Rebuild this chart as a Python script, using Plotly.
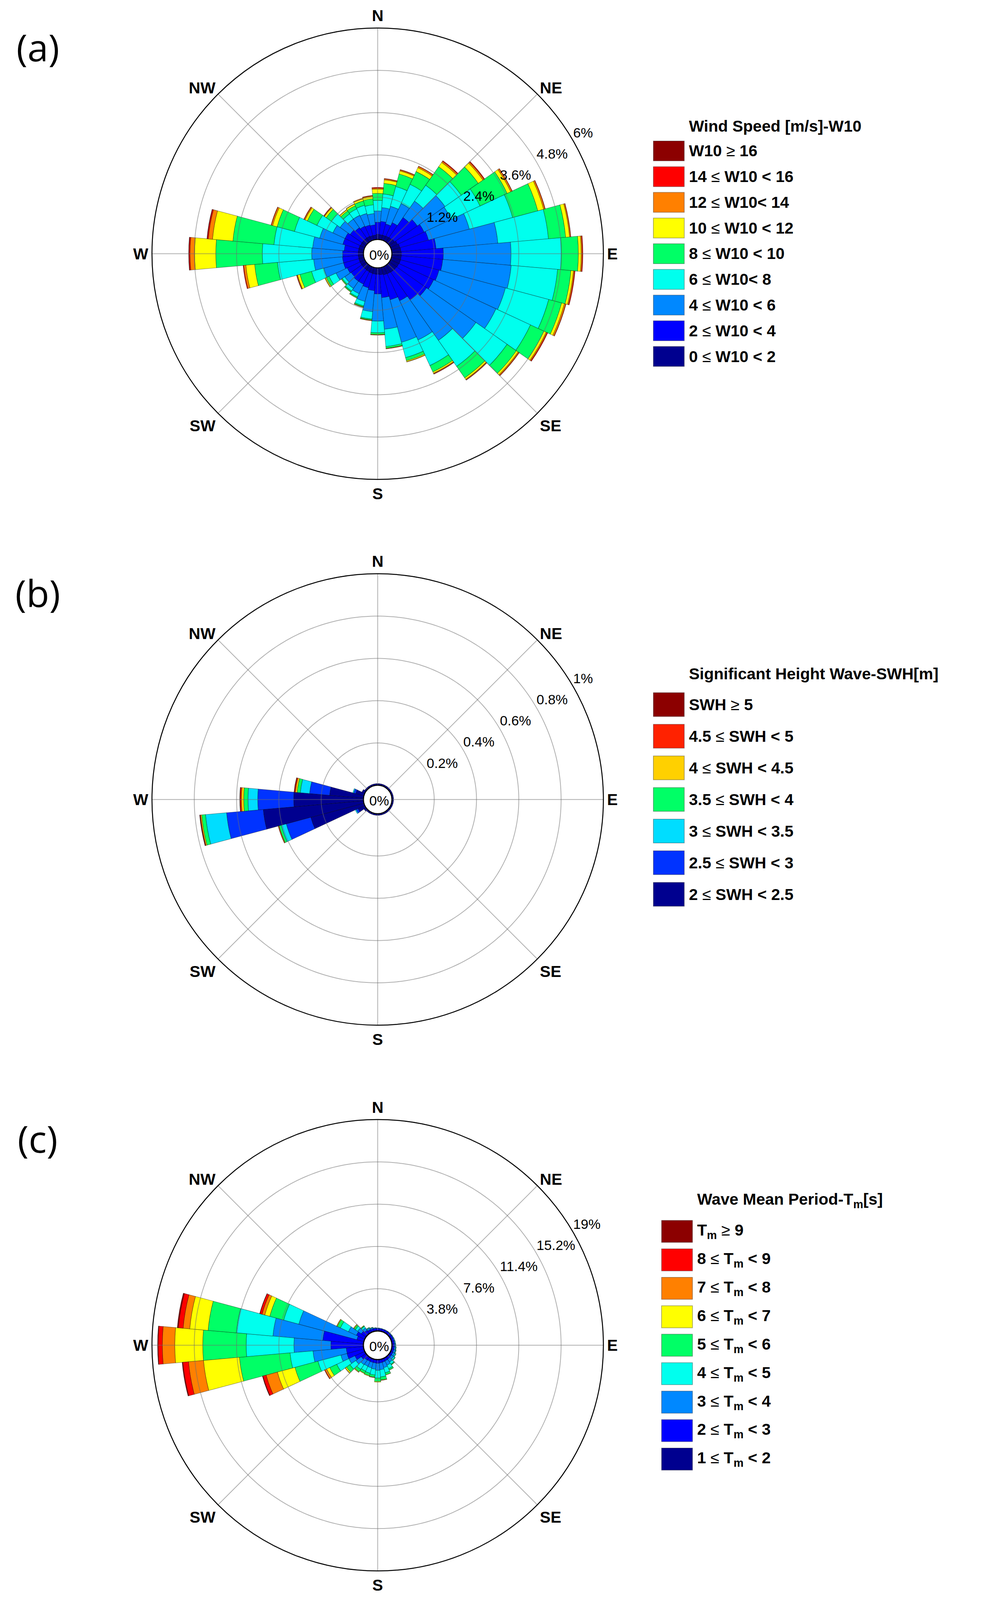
import numpy as np
import plotly.graph_objects as go

# the browser viewport is 2513 x 4096, so the 2513 x 4503 original layout is
# squeezed vertically by S to keep all three roses visible
W, REF_H, H = 2513, 4503, 4096
S = H / REF_H
FONT = "Liberation Sans"

directions = list(range(0, 360, 10))
compass_deg = [0, 45, 90, 135, 180, 225, 270, 315]
compass_lbl = ["N", "NE", "E", "SE", "S", "SW", "W", "NW"]

# ---- (a) wind speed W10, frequency [%] per 10 deg sector, lowest class first
w10_labels = ["0 ≤ W10 < 2", "2 ≤ W10 < 4", "4 ≤ W10 < 6", "6 ≤ W10< 8", "8 ≤ W10 < 10",
              "10 ≤ W10 < 12", "12 ≤ W10< 14", "14 ≤ W10 < 16", "W10 ≥ 16"]
w10_colors = ["#00008f", "#0000ff", "#0088ff", "#00ffee", "#00ff66",
              "#ffff00", "#ff8000", "#ff0000", "#8c0000"]
w10_0_2 = [.15, .14, .14, .15, .16, .18, .22, .25, .26, .27, .27, .27, .26, .25, .24, .23, .22, .20,
           .18, .18, .17, .16, .15, .15, .15, .15, .15, .15, .15, .15, .14, .14, .14, .14, .13, .13]
w10_2_4 = [.34, .38, .33, .42, .69, .79, .83, .84, 1.00, 1.19, 1.18, 1.13, 1.09, 1.04, .96, .84, .73, .65,
           .56, .47, .43, .39, .40, .37, .40, .45, .45, .44, .40, .47, .48, .41, .36, .32, .31, .29]
w10_4_6 = [.32, .39, .52, .60, .57, .96, .85, 1.20, 1.76, 1.92, 1.95, 1.95, 1.95, 1.71, 1.40, 1.23, 1.25, .90,
           .77, .60, .40, .30, .25, .22, .35, .58, .82, .88, .90, .68, .38, .35, .30, .34, .34, .32]
w10_6_8 = [.30, .39, .58, .60, .55, .56, .90, 1.27, 1.44, 1.43, 1.32, 1.27, 1.08, 1.08, .90, .80, .45, .49,
           .33, .21, .13, .10, .09, .08, .22, .36, 1.03, 1.40, 1.10, .74, .50, .30, .18, .20, .24, .25]
w10_8_10 = [.20, .30, .37, .40, .64, .59, .85, .74, .49, .48, .38, .38, .42, .32, .40, .20, .09, .05,
            .05, .03, .03, .03, .03, .03, .09, .34, .65, 1.32, 1.17, .51, .30, .18, .10, .10, .13, .17]
w10_10_12 = [.12, .10, .09, .12, .15, .16, .11, .17, .11, .08, .07, .08, .07, .06, .05, .04, .03, .01,
             .01, .01, .01, .01, .01, .01, .03, .07, .25, .60, .58, .13, .07, .06, .04, .05, .06, .07]
w10_12_14 = [.03, .03, .03, .04, .04, .04, .04, .04, .03, .03, .03, .04, .03, .03, .02, .02, .01, .01,
             .01, .01, .01, 0, 0, 0, .01, .02, .06, .13, .12, .04, .03, .02, .01, .01, .02, .02]
w10_14_16 = [.02, .01, .01, .01, .02, .02, .01, .01, .01, .02, .02, .01, .02, .01, .01, .01, 0, 0,
             0, 0, 0, 0, 0, 0, 0, .01, .02, .03, .03, .01, .01, .01, 0, 0, 0, .01]
w10_16 = [0, 0, 0, 0, 0, 0, 0, 0, 0, 0, 0, 0, 0, 0, 0, 0, 0, 0,
          0, 0, 0, 0, 0, 0, 0, 0, 0, .01, .01, 0, 0, 0, 0, 0, 0, 0]
w10_ticks = [1.2, 2.4, 3.6, 4.8, 6]

# ---- (b) significant wave height SWH
swh_labels = ["2 ≤ SWH < 2.5", "2.5 ≤ SWH < 3", "3 ≤ SWH < 3.5", "3.5 ≤ SWH < 4",
              "4 ≤ SWH < 4.5", "4.5 ≤ SWH < 5", "SWH ≥ 5"]
swh_colors = ["#00008f", "#0033ff", "#00ddff", "#00ff66", "#ffd000", "#ff2200", "#8c0000"]
swh_2_25 = [.008, .008, .008, .008, .008, .008, .008, .008, .008, .008, .008, .008, .008, .008, .008, .008, .008, .008,
            .008, .008, .008, .008, .008, .012, .035, .26, .476, .33, .161, .04, .015, .008, .008, .008, .008, .008]
swh_25_3 = [0, 0, 0, 0, 0, 0, 0, 0, 0, 0, 0, 0, 0, 0, 0, 0, 0, 0,
            0, 0, 0, 0, 0, 0, .01, .12, .174, .17, .095, .01, 0, 0, 0, 0, 0, 0]
swh_3_35 = [0, 0, 0, 0, 0, 0, 0, 0, 0, 0, 0, 0, 0, 0, 0, 0, 0, 0,
            0, 0, 0, 0, 0, 0, .005, .025, .10, .046, .044, .005, 0, 0, 0, 0, 0, 0]
swh_35_4 = [0, 0, 0, 0, 0, 0, 0, 0, 0, 0, 0, 0, 0, 0, 0, 0, 0, 0,
            0, 0, 0, 0, 0, 0, 0, .01, .018, .02, .015, 0, 0, 0, 0, 0, 0, 0]
swh_4_45 = [0, 0, 0, 0, 0, 0, 0, 0, 0, 0, 0, 0, 0, 0, 0, 0, 0, 0,
            0, 0, 0, 0, 0, 0, 0, .003, .005, .011, .008, 0, 0, 0, 0, 0, 0, 0]
swh_45_5 = [0, 0, 0, 0, 0, 0, 0, 0, 0, 0, 0, 0, 0, 0, 0, 0, 0, 0,
            0, 0, 0, 0, 0, 0, 0, .002, .003, .006, .005, 0, 0, 0, 0, 0, 0, 0]
swh_5 = [0, 0, 0, 0, 0, 0, 0, 0, 0, 0, 0, 0, 0, 0, 0, 0, 0, 0,
         0, 0, 0, 0, 0, 0, 0, 0, .002, .002, .002, 0, 0, 0, 0, 0, 0, 0]
swh_ticks = [0.2, 0.4, 0.6, 0.8, 1]

# ---- (c) wave mean period Tm
tm_labels = ["1 ≤ T<sub>m</sub> < 2", "2 ≤ T<sub>m</sub> < 3", "3 ≤ T<sub>m</sub> < 4",
             "4 ≤ T<sub>m</sub> < 5", "5 ≤ T<sub>m</sub> < 6", "6 ≤ T<sub>m</sub> < 7",
             "7 ≤ T<sub>m</sub> < 8", "8 ≤ T<sub>m</sub> < 9", "T<sub>m</sub> ≥ 9"]
tm_colors = ["#00008f", "#0000ff", "#0088ff", "#00ffee", "#00ff66",
             "#ffff00", "#ff8000", "#ff0000", "#8c0000"]
tm_1_2 = [.06, .06, .06, .06, .06, .06, .06, .06, .06, .06, .06, .06, .06, .06, .06, .06, .06, .06,
          .06, .06, .06, .06, .06, .07, .08, .06, .06, .06, .06, .06, .06, .07, .07, .06, .06, .06]
tm_2_3 = [.17, .16, .16, .16, .16, .16, .16, .16, .16, .16, .16, .16, .17, .18, .20, .22, .25, .27,
          .29, .27, .27, .27, .30, .45, .90, 1.52, 1.50, 2.87, 3.61, .60, .77, .45, .30, .22, .20, .18]
tm_3_4 = [.05, .05, .04, .04, .04, .05, .06, .08, .09, .10, .12, .15, .20, .24, .32, .42, .50, .60,
          .63, .55, .50, .48, .50, .60, .60, .57, 3.00, 3.32, 4.50, 5.40, .79, .40, .26, .13, .09, .06]
tm_4_5 = [0, 0, 0, 0, .01, .01, .02, .02, .03, .04, .05, .06, .09, .13, .22, .35, .48, .65,
          .69, .52, .50, .48, .52, .65, 1.20, 2.13, 2.07, 4.29, 3.30, 1.40, .80, .25, .16, .06, .04, .02]
tm_5_6 = [0, 0, 0, 0, 0, 0, 0, 0, 0, 0, .01, .02, .03, .05, .07, .13, .18, .27,
          .31, .20, .22, .21, .25, .38, .70, 2.14, 4.56, 3.90, 2.55, 1.30, .30, .13, .07, .03, .01, 0]
tm_6_7 = [0, 0, 0, 0, 0, 0, 0, 0, 0, 0, 0, 0, 0, 0, .01, .02, .03, .04,
          .06, .04, .05, .05, .06, .12, .30, 1.63, 3.24, 2.51, 1.65, .46, .06, .06, .03, 0, 0, 0]
tm_7_8 = [0, 0, 0, 0, 0, 0, 0, 0, 0, 0, 0, 0, 0, 0, 0, 0, 0, .01,
          0, .01, 0, 0, .01, .03, .18, 1.05, 1.35, 1.12, .60, .26, .02, .02, 0, 0, 0, 0]
tm_8_9 = [0, 0, 0, 0, 0, 0, 0, 0, 0, 0, 0, 0, 0, 0, 0, 0, 0, 0,
          0, 0, 0, 0, 0, 0, .04, .30, .51, .38, .43, .20, 0, 0, 0, 0, 0, 0]
tm_9 = [0, 0, 0, 0, 0, 0, 0, 0, 0, 0, 0, 0, 0, 0, 0, 0, 0, 0,
        0, 0, 0, 0, 0, 0, 0, .05, .07, .05, .10, .02, 0, 0, 0, 0, 0, 0]
tm_ticks = [3.8, 7.6, 11.4, 15.2, 19]

# layout measured on the original picture (pixels, y from the top)
panels = [
    dict(tag="(a)", title="Wind Speed [m/s]-W10", labels=w10_labels, colors=w10_colors,
         series=[w10_0_2, w10_2_4, w10_4_6, w10_6_8, w10_8_10, w10_10_12, w10_12_14, w10_14_16, w10_16],
         ticks=w10_ticks, cy=714, leg_dy=72.3, leg_h=56, leg_x=1672, title_dy=70),
    dict(tag="(b)", title="Significant Height Wave-SWH[m]", labels=swh_labels, colors=swh_colors,
         series=[swh_2_25, swh_25_3, swh_3_35, swh_35_4, swh_4_45, swh_45_5, swh_5],
         ticks=swh_ticks, cy=2250, leg_dy=89, leg_h=67, leg_x=1672, title_dy=87),
    dict(tag="(c)", title="Wave Mean Period-T<sub>m</sub>[s]", labels=tm_labels, colors=tm_colors,
         series=[tm_1_2, tm_2_3, tm_3_4, tm_4_5, tm_5_6, tm_6_7, tm_7_8, tm_8_9, tm_9],
         ticks=tm_ticks, cy=3786, leg_dy=80.1, leg_h=62, leg_x=1693, title_dy=87),
]

CX, R, HOLE = 966.5, 635 * S, 0.063
F_AXIS, F_TICK, F_LEG, F_TAG = round(45 * S), round(38 * S), round(45 * S), round(105 * S)


def px(x):
    return x / W


def py(y_ref):
    # reference y (top-down) -> paper fraction of the squeezed figure
    return 1 - y_ref * S / H


def fmt_label(s):
    # thin comparison glyphs like the MATLAB tex output
    s = s.replace(" < ", " &lt; ").replace("< ", "&lt; ")
    s = s.replace("≤", '<span style="font-weight:normal">≤</span>')
    s = s.replace("≥", '<span style="font-weight:normal">≥</span>')
    return s


fig = go.Figure()
shapes, annotations = [], []
theta_ring = np.linspace(0, 360, 361)

for k, p in enumerate(panels):
    sub = "polar" if k == 0 else f"polar{k + 1}"
    rmax = p["ticks"][-1]

    for vals, lab, col in zip(p["series"], p["labels"], p["colors"]):
        fig.add_trace(go.Barpolar(
            r=vals, theta=directions, width=10, name=lab, subplot=sub,
            marker=dict(color=col, line=dict(color="rgba(0,0,0,0.45)", width=1.2)),
            showlegend=False))

    # grid drawn on top of the bars, as in the original
    gr, gt = [], []
    for t in p["ticks"][:-1]:
        gr += [t] * len(theta_ring) + [None]
        gt += list(theta_ring) + [None]
    for d in compass_deg:
        gr += [0, rmax, None]
        gt += [d, d, None]
    fig.add_trace(go.Scatterpolar(r=gr, theta=gt, mode="lines", subplot=sub, showlegend=False,
                                  line=dict(color="rgba(110,110,110,0.55)", width=2), hoverinfo="skip"))
    fig.add_trace(go.Scatterpolar(r=[0] * len(theta_ring), theta=theta_ring, mode="lines", subplot=sub,
                                  showlegend=False, line=dict(color="#101040", width=2), hoverinfo="skip"))
    fig.add_trace(go.Scatterpolar(
        r=p["ticks"], theta=[60] * len(p["ticks"]), mode="text", subplot=sub, showlegend=False,
        text=[f"{t:g}%" for t in p["ticks"]], textposition="top right", cliponaxis=False,
        textfont=dict(family=FONT, size=F_TICK, color="black"), hoverinfo="skip"))

    cy = p["cy"]
    r_ref = R / S
    fig.update_layout({sub: dict(
        domain=dict(x=[px(CX - R), px(CX + R)], y=[py(cy + r_ref), py(cy - r_ref)]),
        hole=HOLE, bgcolor="white", barmode="stack",
        angularaxis=dict(rotation=90, direction="clockwise", tickmode="array",
                         tickvals=compass_deg, ticktext=compass_lbl, ticks="",
                         tickfont=dict(family=FONT, size=F_AXIS, color="black", weight="bold"),
                         showgrid=False, showline=True, linecolor="black", linewidth=2.5),
        radialaxis=dict(range=[0, rmax], showgrid=False, showline=False,
                        showticklabels=False, ticks=""),
    )})

    annotations.append(dict(x=px(CX + 4), y=py(cy + 3), xref="paper", yref="paper", text="0%",
                            xanchor="center", yanchor="middle", showarrow=False,
                            font=dict(family=FONT, size=F_TICK, color="black")))
    annotations.append(dict(x=px(CX - 870), y=py(cy - 583), xref="paper", yref="paper", text=p["tag"],
                            xanchor="center", yanchor="middle", showarrow=False,
                            font=dict(family="Open Sans", size=F_TAG, color="black")))

    # legend block, highest class on top, centred on the rose
    n = len(p["labels"])
    first = cy - (n - 1) / 2 * p["leg_dy"]
    sw = 87 * S
    tx = p["leg_x"] + sw + 10
    annotations.append(dict(x=px(tx), y=py(first - p["title_dy"]), xref="paper", yref="paper",
                            text=p["title"], showarrow=False, xanchor="left", yanchor="middle",
                            font=dict(family=FONT, size=F_LEG, color="black", weight="bold")))
    for i, (lab, col) in enumerate(zip(p["labels"][::-1], p["colors"][::-1])):
        yc = first + i * p["leg_dy"]
        shapes.append(dict(type="rect", xref="paper", yref="paper",
                           x0=px(p["leg_x"]), x1=px(p["leg_x"] + sw),
                           y0=py(yc + p["leg_h"] / 2), y1=py(yc - p["leg_h"] / 2),
                           fillcolor=col, line=dict(color="rgba(0,0,0,0.3)", width=2)))
        annotations.append(dict(x=px(tx), y=py(yc), xref="paper", yref="paper", text=fmt_label(lab),
                                showarrow=False, xanchor="left", yanchor="middle",
                                font=dict(family=FONT, size=F_LEG, color="black", weight="bold")))

fig.update_layout(width=W, height=H, margin=dict(l=0, r=0, t=0, b=0),
                  paper_bgcolor="white", plot_bgcolor="white",
                  shapes=shapes, annotations=annotations, showlegend=False)

fig.write_html("out.html", config={"displayModeBar": False},
               post_script="document.body.style.margin='0';")
